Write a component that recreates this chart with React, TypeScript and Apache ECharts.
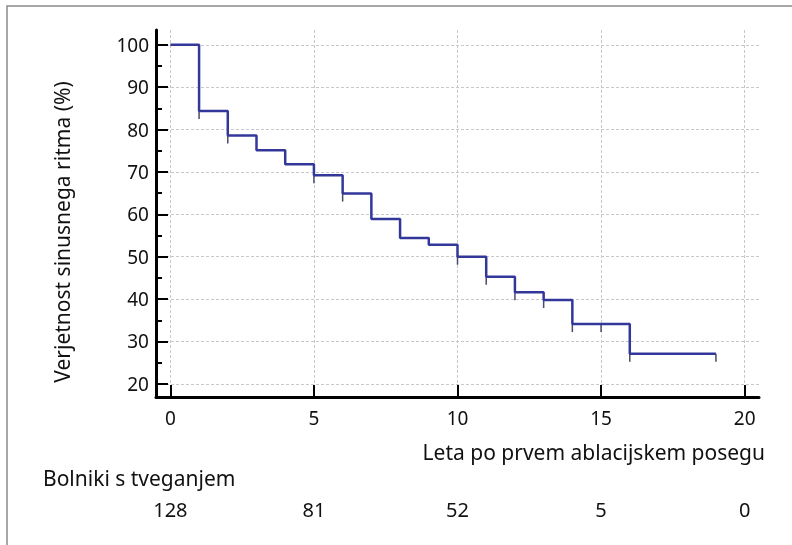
import React, { useEffect, useRef } from "react";
import * as echarts from "echarts";

const survivalTimes = [0, 1, 2, 3, 4, 5, 6, 7, 8, 9, 10, 11, 12, 13, 14, 16, 19];
const survivalValues = [100, 84.4, 78.6, 75.1, 71.8, 69.2, 64.9, 58.9, 54.4, 52.8, 50.0, 45.3, 41.6, 39.8, 34.1, 27.1, 27.1];
const censorTimes = [1, 2, 5, 6, 10, 11, 12, 13, 14, 15, 16, 19];
const censorValues = [84.4, 78.6, 69.2, 64.9, 50.0, 45.3, 41.6, 39.8, 34.1, 34.1, 27.1, 27.1];
const xTicks = [0, 5, 10, 15, 20];
const yTicks = [20, 30, 40, 50, 60, 70, 80, 90, 100];
const yMinorTicks = [25, 35, 45, 55, 65, 75, 85, 95];
const atRisk = [128, 81, 52, 5, 0];

const FONT = "Noto Sans";

export default function App() {
  const ref = useRef<HTMLDivElement>(null);
  useEffect(() => {
    if (!ref.current) return;
    const chart = echarts.init(ref.current, null, { renderer: "svg" });
    const xMin = -0.5, xMax = 20.5, yMin = 16.9, yMax = 103.5;
    const gridLine = { show: true, lineStyle: { color: "#c8c8c8", type: [3, 2], width: 1 } };
    chart.setOption({
      animation: false,
      textStyle: { fontFamily: FONT },
      grid: { left: 156, right: 33, top: 30, bottom: 148, containLabel: false },
      xAxis: [
        {
          type: "value", min: xMin, max: xMax, position: "bottom",
          axisLine: { show: true, onZero: false, lineStyle: { color: "#000", width: 3 } },
          axisTick: { show: true, inside: true, length: 12, customValues: xTicks, lineStyle: { color: "#000", width: 2 } },
          axisLabel: { customValues: xTicks, margin: 11, fontSize: 19, color: "#111", fontFamily: FONT },
          splitLine: gridLine,
        },
        {
          type: "value", min: xMin, max: xMax, position: "bottom", offset: 102,
          axisLine: { show: false, onZero: false }, axisTick: { show: false }, splitLine: { show: false },
          axisLabel: {
            customValues: xTicks, margin: 0, fontSize: 20, color: "#111", fontFamily: FONT,
            formatter: (v: number) => String(atRisk[xTicks.indexOf(Math.round(v))] ?? ""),
          },
        },
      ],
      yAxis: [
        {
          type: "value", min: yMin, max: yMax,
          axisLine: { show: true, onZero: false, lineStyle: { color: "#000", width: 3 } },
          axisTick: { show: true, inside: true, length: 12, customValues: yTicks, lineStyle: { color: "#000", width: 2 } },
          axisLabel: { customValues: yTicks, margin: 7, fontSize: 19, color: "#111", fontFamily: FONT },
          splitLine: gridLine,
        },
        {
          type: "value", min: yMin, max: yMax, position: "left",
          axisLine: { show: false, onZero: false }, splitLine: { show: false },
          axisTick: { show: true, inside: true, length: 6, customValues: yMinorTicks, lineStyle: { color: "#000", width: 2 } },
          axisLabel: { show: false },
        },
      ],
      series: [
        {
          type: "line", step: "end", xAxisIndex: 0, yAxisIndex: 0,
          data: survivalTimes.map((t, i) => [t, survivalValues[i]]),
          showSymbol: false, symbol: "none",
          lineStyle: { color: "#33379a", width: 2.5 },
        },
        {
          type: "custom", xAxisIndex: 0, yAxisIndex: 0,
          data: censorTimes.map((t, i) => [t, censorValues[i]]),
          renderItem: (params: any, api: any) => {
            const p = api.coord([api.value(0), api.value(1)]);
            return {
              type: "line",
              shape: { x1: p[0], y1: p[1], x2: p[0], y2: p[1] + 8 },
              style: { stroke: "#4a4a6a", lineWidth: 1.5 },
            };
          },
        },
      ],
      graphic: [
        { type: "rect", silent: true, shape: { x: 7, y: 6, width: 900, height: 700 }, style: { fill: "none", stroke: "#8a8a8a", lineWidth: 1.5 } },
        { type: "text", x: 62, y: 232, rotation: Math.PI / 2, style: { text: "Verjetnost sinusnega ritma (%)", fontSize: 21, fontFamily: FONT, fill: "#111", align: "center", verticalAlign: "middle" } },
        { type: "text", x: 765, y: 452, style: { text: "Leta po prvem ablacijskem posegu", fontSize: 21, fontFamily: FONT, fill: "#111", align: "right", verticalAlign: "middle" } },
        { type: "text", x: 43, y: 478, style: { text: "Bolniki s tveganjem", fontSize: 21, fontFamily: FONT, fill: "#111", align: "left", verticalAlign: "middle" } },
      ],
    });
    return () => chart.dispose();
  }, []);
  return <div ref={ref} style={{ position: "fixed", left: 0, top: 0, width: 792, height: 545 }} />;
}
